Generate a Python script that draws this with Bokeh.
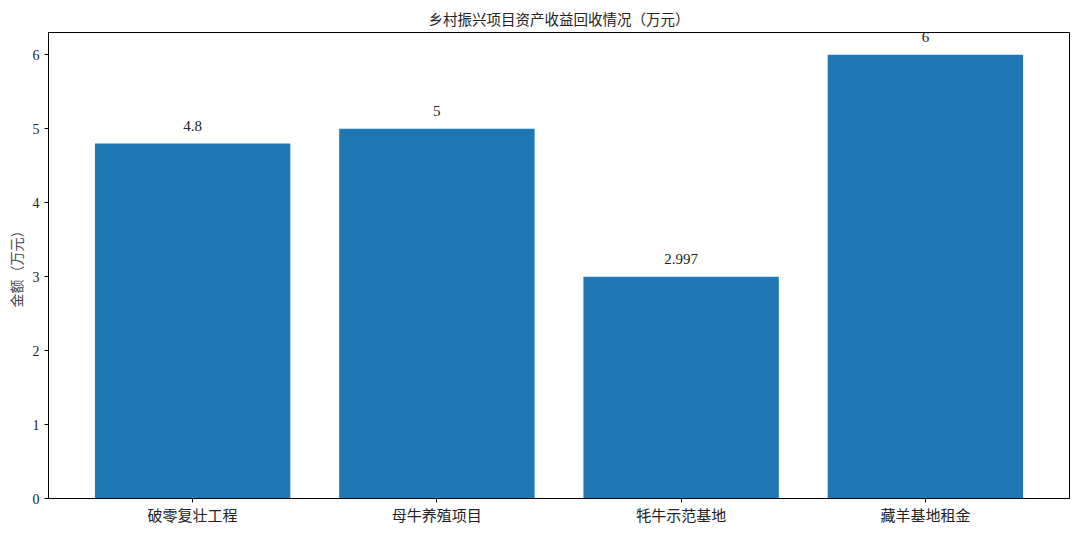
from bokeh.plotting import figure
from bokeh.models import ColumnDataSource, FixedTicker, Range1d
from bokeh.core.properties import value
from bokeh.embed import file_html
from bokeh.resources import INLINE

# Project names and recovered asset income (10k yuan)
projects = ["破零复壮工程", "母牛养殖项目", "牦牛示范基地", "藏羊基地租金"]
amounts = [4.8, 5, 2.997, 6]
labels = ["4.8", "5", "2.997", "6"]
y_ticks = [0, 1, 2, 3, 4, 5, 6]

FONT = "'Liberation Serif', 'Noto Sans CJK SC'"

xs = list(range(len(projects)))
src = ColumnDataSource(dict(
    x=xs,
    top=amounts,
    label=labels,
    label_y=[a + 0.24 for a in amounts],
))

p = figure(
    width=1080, height=535,
    output_backend="svg", toolbar_location=None,
    x_range=Range1d(-0.59, 3.59), y_range=Range1d(0, 6.3),
    min_border_left=48, min_border_right=11,
    min_border_top=32, min_border_bottom=37,
)

p.title.text = "乡村振兴项目资产收益回收情况（万元）"
p.title.align = "center"
p.title.text_font = FONT
p.title.text_font_size = "14.5px"
p.title.text_font_style = "normal"
p.title.text_color = "#222222"

p.vbar(x="x", top="top", width=0.8, bottom=0, source=src,
       fill_color="#1f77b4", line_color=None)

p.text(x="x", y="label_y", text="label", source=src,
       text_align="center", text_baseline="alphabetic",
       text_font=value(FONT), text_font_size="15px", text_color="#222222")

p.xaxis.ticker = FixedTicker(ticks=xs)
p.xaxis.major_label_overrides = {i: n for i, n in enumerate(projects)}
p.xaxis.major_label_text_font_size = "15px"
p.yaxis.ticker = FixedTicker(ticks=y_ticks)
p.yaxis.major_label_text_font_size = "14px"
p.yaxis.axis_label = "金额（万元）"
p.yaxis.axis_label_text_font_size = "14px"
p.yaxis.axis_label_text_font_style = "normal"

for ax in (p.xaxis, p.yaxis):
    ax.major_label_text_font = FONT
    ax.axis_label_text_font = FONT
    ax.major_label_text_color = "#222222"
    ax.axis_line_color = "black"
    ax.major_tick_line_color = "black"
    ax.major_tick_in = 0
    ax.major_tick_out = 4
    ax.minor_tick_line_color = None

p.xgrid.grid_line_color = None
p.ygrid.grid_line_color = None
p.outline_line_color = "black"
p.outline_line_alpha = 1.0

open("out.html", "w").write(file_html(p, INLINE))
